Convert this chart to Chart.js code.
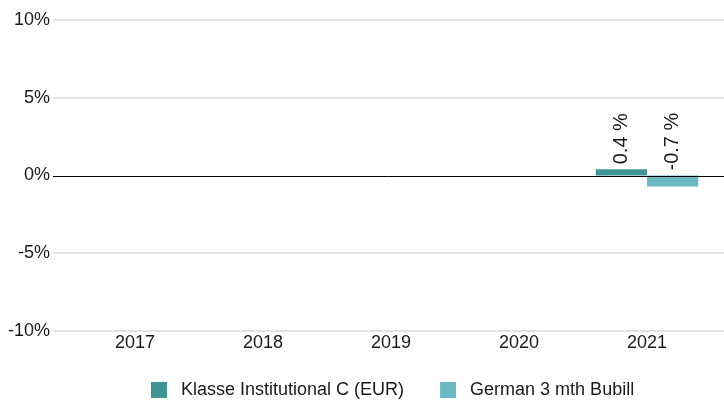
<!DOCTYPE html>
<html>
<head>
<meta charset="utf-8">
<script src="https://cdn.jsdelivr.net/npm/chart.js@4/dist/chart.umd.min.js"></script>
<style>
  html, body { margin: 0; padding: 0; background: #fff; }
  #wrap { width: 724px; height: 401px; }
</style>
</head>
<body>
<div id="wrap"><canvas id="myChart" width="724" height="401"></canvas></div>
<script>
// chart data
const years = ['2017', '2018', '2019', '2020', '2021'];
const classC = [null, null, null, null, 0.4];
const bubill = [null, null, null, null, -0.7];
const yTicks = [-10, -5, 0, 5, 10];

const FONT = 'Liberation Sans, Arial, sans-serif';
const TEXT = '#1a1a1a';

// horizontal grid lines run past the category area, zero line on top of bars
const gridPlugin = {
    id: 'gridLines',
    afterLayout(chart) {
        // move the legend so it sits under the category area
        const lg = chart.legend;
        const p = lg.options.labels.padding;
        const d = (2 * 151 - p - lg.left - lg.right + lg.lineWidths[0]) / 2;
        lg.left += d;
        lg.right += d;
    },
    beforeDatasetsDraw(chart) {
        const y = chart.scales.y;
        const c = chart.ctx;
        c.save();
        c.strokeStyle = '#e3e3e3';
        c.lineWidth = 2;
        yTicks.forEach(v => {
            if (v === 0) return;
            const py = Math.round(y.getPixelForValue(v));
            c.beginPath();
            c.moveTo(53, py);
            c.lineTo(chart.width, py);
            c.stroke();
        });
        c.restore();
    },
    afterDatasetsDraw(chart) {
        const y = chart.scales.y;
        const c = chart.ctx;
        const py = Math.round(y.getPixelForValue(0)) + 0.5;
        c.save();
        c.strokeStyle = '#000';
        c.lineWidth = 1;
        c.beginPath();
        c.moveTo(53, py);
        c.lineTo(chart.width, py);
        c.stroke();

        // rotated value labels
        c.fillStyle = TEXT;
        c.font = '20px ' + FONT;
        c.textAlign = 'left';
        c.textBaseline = 'middle';
        chart.data.datasets.forEach((ds, i) => {
            const meta = chart.getDatasetMeta(i);
            meta.data.forEach((bar, j) => {
                const v = ds.data[j];
                if (v === null || v === undefined) return;
                const top = Math.min(bar.y, bar.base);
                c.save();
                c.translate(bar.x, top - 5);
                c.rotate(-Math.PI / 2);
                c.fillText(v.toFixed(1) + ' %', 0, 0);
                c.restore();
            });
        });
        c.restore();
    }
};

const ctx = document.getElementById('myChart').getContext('2d');
const myChart = new Chart(ctx, {
    type: 'bar',
    data: {
        labels: years,
        datasets: [{
            label: 'Klasse Institutional C (EUR)',
            data: classC,
            backgroundColor: '#409494'
        }, {
            label: 'German 3 mth Bubill',
            data: bubill,
            backgroundColor: '#6cb9c1'
        }]
    },
    options: {
        responsive: false,
        animation: false,
        layout: {
            padding: { top: 20, right: 13, left: 0, bottom: -8 }
        },
        datasets: {
            bar: { categoryPercentage: 0.8, barPercentage: 1.0 }
        },
        plugins: {
            legend: {
                position: 'bottom',
                labels: {
                    boxWidth: 16,
                    boxHeight: 16,
                    padding: 26,
                    color: TEXT,
                    font: { family: FONT, size: 18 },
                    generateLabels(chart) {
                        const items = Chart.defaults.plugins.legend.labels.generateLabels(chart);
                        items.forEach((it, i) => {
                            it.text = ' ' + it.text + (i < items.length - 1 ? '  ' : '');
                            it.lineWidth = 0;
                        });
                        return items;
                    }
                }
            },
            tooltip: { enabled: false }
        },
        scales: {
            x: {
                afterFit(s) { s.height = 24; },
                grid: { display: false, drawTicks: false },
                border: { display: false },
                ticks: { color: TEXT, padding: 1, font: { family: FONT, size: 18 } }
            },
            y: {
                min: -10,
                max: 10,
                afterFit(s) { s.width = 71; },
                grid: { display: false, drawTicks: true, tickLength: 21 },
                border: { display: false },
                ticks: {
                    stepSize: 5,
                    padding: 0,
                    color: TEXT,
                    font: { family: FONT, size: 18 },
                    callback: v => v + '%'
                }
            }
        }
    },
    plugins: [gridPlugin]
});
</script>
</body>
</html>
